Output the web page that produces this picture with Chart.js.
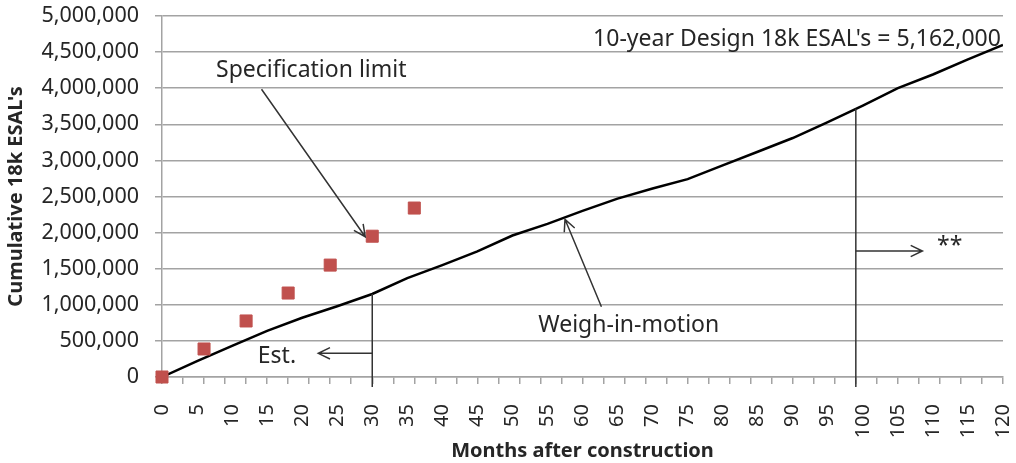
<!DOCTYPE html>
<html lang="en">
<head>
<meta charset="UTF-8">
<title>Cumulative 18k ESAL's</title>
<script src="https://cdn.jsdelivr.net/npm/chart.js@4"></script>
<style>
  body { margin: 0; background: #fff; }
  #wrap { width: 1016px; height: 463px; }
</style>
</head>
<body>
<div id="wrap"><canvas id="esalChart" width="1016" height="463"></canvas></div>
<script>
// weigh-in-motion cumulative ESALs, read every 5 months
const wimMonths = [0, 5, 10, 15, 20, 25, 30, 35, 40, 45, 50, 55, 60,
                   65, 70, 75, 80, 85, 90, 95, 100, 105, 110, 115, 120];
const wimEsals = [0, 220000, 430000, 640000, 820000, 980000, 1150000, 1370000,
                  1550000, 1740000, 1960000, 2120000, 2300000, 2470000, 2610000,
                  2740000, 2930000, 3120000, 3310000, 3530000, 3760000, 4000000,
                  4190000, 4400000, 4600000];

// specification limit points
const specMonths = [0, 6, 12, 18, 24, 30, 36];
const specEsals = [0, 388000, 776000, 1163000, 1550000, 1950000, 2340000];

const xTitle = 'Months after construction';
const yTitle = "Cumulative 18k ESAL's";

const FONT = "'Noto Sans', sans-serif";
const GRID = '#a3a3a3';
const INK = '#262626';

// where the WIM line sits at a given month (for the drop lines)
function esalAt(month) {
  for (let i = 1; i < wimMonths.length; i++) {
    if (month <= wimMonths[i]) {
      const t = (month - wimMonths[i - 1]) / (wimMonths[i] - wimMonths[i - 1]);
      return wimEsals[i - 1] + t * (wimEsals[i] - wimEsals[i - 1]);
    }
  }
  return wimEsals[wimEsals.length - 1];
}

// callouts, in data units
const notes = {
  spec: { text: 'Specification limit', x: 21.3, y: 4250000, from: [14.2, 3985000], to: [29.0, 1943000] },
  wim: { text: 'Weigh-in-motion', x: 66.6, y: 720000, from: [62.7, 974000], to: [57.5, 2184000] },
  design: { text: "10-year Design 18k ESAL's = 5,162,000", x: 119.7, y: 4670000 },
  est: { text: 'Est.', x: 16.4, y: 281000, month: 30, arrowY: 328000, arrowTo: 22.3 },
  later: { text: '**', x: 112.4, y: 1805000, month: 99, arrowY: 1745000, arrowTo: 108.5 }
};

function arrow(ctx, x1, y1, x2, y2) {
  const a = Math.atan2(y2 - y1, x2 - x1);
  const h = 13, spread = 0.45;
  ctx.beginPath();
  ctx.moveTo(x1, y1);
  ctx.lineTo(x2, y2);
  ctx.moveTo(x2 - h * Math.cos(a - spread), y2 - h * Math.sin(a - spread));
  ctx.lineTo(x2, y2);
  ctx.lineTo(x2 - h * Math.cos(a + spread), y2 - h * Math.sin(a + spread));
  ctx.stroke();
}

const calloutPlugin = {
  id: 'callouts',
  afterDatasetsDraw(chart) {
    const { ctx, scales: { x, y } } = chart;
    const px = v => x.getPixelForValue(v);
    const py = v => y.getPixelForValue(v);
    ctx.save();
    ctx.strokeStyle = '#333';
    ctx.lineWidth = 1.5;

    // drop lines at 30 and 99 months
    [notes.est, notes.later].forEach(n => {
      const cx = px(n.month);
      ctx.beginPath();
      ctx.moveTo(cx, py(esalAt(n.month)));
      ctx.lineTo(cx, y.bottom + 10);
      ctx.stroke();
      arrow(ctx, cx, py(n.arrowY), px(n.arrowTo), py(n.arrowY));
    });
    [notes.spec, notes.wim].forEach(n => {
      arrow(ctx, px(n.from[0]), py(n.from[1]), px(n.to[0]), py(n.to[1]));
    });

    ctx.fillStyle = INK;
    ctx.font = '23px ' + FONT;
    ctx.textBaseline = 'middle';
    ctx.textAlign = 'center';
    [notes.spec, notes.wim, notes.est, notes.later].forEach(n => {
      ctx.fillText(n.text, px(n.x), py(n.y));
    });
    ctx.textAlign = 'right';
    ctx.fillText(notes.design.text, px(notes.design.x), py(notes.design.y));
    ctx.restore();
  }
};

new Chart(document.getElementById('esalChart'), {
  type: 'scatter',
  data: {
    datasets: [
      {
        label: 'Weigh-in-motion',
        type: 'line',
        data: wimMonths.map((m, i) => ({ x: m, y: wimEsals[i] })),
        borderColor: '#000',
        borderWidth: 2.5,
        pointRadius: 0,
        tension: 0,
        order: 2
      },
      {
        label: 'Specification limit',
        data: specMonths.map((m, i) => ({ x: m, y: specEsals[i] })),
        backgroundColor: '#c0504d',
        borderColor: '#c0504d',
        pointStyle: 'rect',
        pointRadius: 8.5,
        clip: false,
        order: 1
      }
    ]
  },
  options: {
    responsive: false,
    animation: false,
    layout: { padding: { top: 16, right: 13, left: 0, bottom: 0 } },
    plugins: { legend: { display: false }, tooltip: { enabled: false } },
    scales: {
      x: {
        type: 'linear',
        min: 0,
        max: 120,
        afterBuildTicks: axis => {
          const t = [];
          for (let m = 0; m <= 120; m++) {
            if (m % 3 === 0 || m % 5 === 0) t.push({ value: m });
          }
          axis.ticks = t;
        },
        afterFit: axis => {
          axis.height = 86;
          axis.paddingLeft = 0;
          axis.paddingRight = 0;
        },
        ticks: {
          autoSkip: false,
          minRotation: 90,
          maxRotation: 90,
          padding: 20,
          color: INK,
          font: { family: FONT, size: 20 },
          callback: v => (v % 5 === 0 ? String(v) : '')
        },
        grid: {
          drawOnChartArea: false,
          tickLength: 7,
          lineWidth: 1.5,
          tickColor: c => (c.tick && c.tick.value % 3 === 0 ? GRID : 'rgba(0,0,0,0)')
        },
        border: { color: GRID, width: 1.5 },
        title: {
          display: true,
          text: xTitle,
          color: INK,
          font: { family: FONT, size: 20, weight: 'bold' },
          padding: { top: 0, bottom: 0 }
        }
      },
      y: {
        min: 0,
        max: 5000000,
        afterFit: axis => {
          axis.width = 162;
          axis.paddingTop = 0;
          axis.paddingBottom = 0;
        },
        ticks: {
          stepSize: 500000,
          padding: 16,
          color: INK,
          font: { family: FONT, size: 21.5 },
          callback: v => v.toLocaleString('en-US')
        },
        grid: { color: GRID, lineWidth: 1.5, tickLength: 7 },
        border: { color: GRID, width: 1.5 },
        title: {
          display: true,
          text: yTitle,
          color: INK,
          font: { family: FONT, size: 20, weight: 'bold' },
          padding: { top: 4, bottom: 0 }
        }
      }
    }
  },
  plugins: [calloutPlugin]
});
</script>
</body>
</html>
